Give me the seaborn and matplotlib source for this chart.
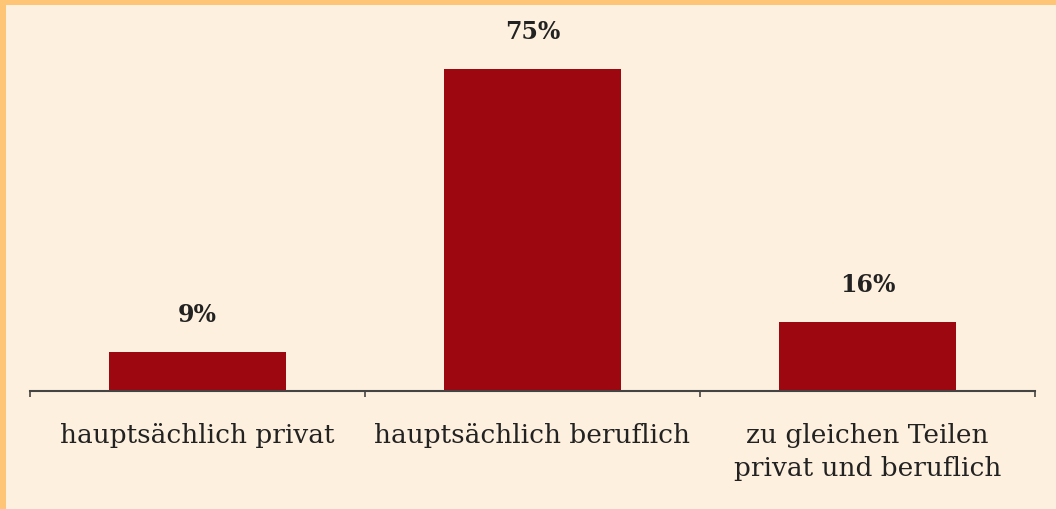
import matplotlib
matplotlib.use("Agg")
import matplotlib.pyplot as plt
import seaborn as sns
import pandas as pd
from matplotlib.patches import Rectangle

categories = ["hauptsächlich privat", "hauptsächlich beruflich", "zu gleichen Teilen\nprivat und beruflich"]
values = [9, 75, 16]
value_labels = ["9%", "75%", "16%"]

sns.set_theme(style="white")
plt.rcParams['font.family'] = ['DejaVu Serif']

bg = "#FEF0DE"
border = "#FFC577"
bar_color = "#9C0710"
text_color = "#222222"

W, H = 1056, 510
fig = plt.figure(figsize=(W / 100, H / 100), dpi=100, facecolor=bg)

# orange frame on top and left
fig.patches.append(Rectangle((0, 1 - 6 / H), 1, 6 / H, transform=fig.transFigure,
                             facecolor=border, edgecolor="none", zorder=0))
fig.patches.append(Rectangle((0, 0), 6 / W, 1, transform=fig.transFigure,
                             facecolor=border, edgecolor="none", zorder=0))

left, right = 30 / W, 1035 / W
bottom = 1 - 392 / H
ymax = 80
height = ymax * (322 / 75) / H
ax = fig.add_axes([left, bottom, right - left, height])
ax.set_facecolor("none")

df = pd.DataFrame({"cat": categories, "val": values})
sns.barplot(data=df, x="cat", y="val", ax=ax, color=bar_color, width=0.53,
            saturation=1, linewidth=0)

ax.set_ylim(0, ymax)
ax.set_xlim(-0.5, 2.5)
for s in ["top", "right", "left"]:
    ax.spines[s].set_visible(False)
ax.spines["bottom"].set_color("#444444")
ax.spines["bottom"].set_linewidth(1.5)
ax.set_yticks([])
ax.set_xlabel("")
ax.set_ylabel("")

# category boundary ticks
ax.set_xticks([-0.5, 0.5, 1.5, 2.5], minor=True)
ax.tick_params(axis="x", which="minor", bottom=True, length=4, width=1.2,
               color="#444444", direction="out")
ax.tick_params(axis="x", which="major", length=0, pad=22, labelsize=19, labelcolor=text_color)
for lbl in ax.get_xticklabels():
    lbl.set_horizontalalignment("center")
    lbl.set_linespacing(1.4)

for i, (v, t) in enumerate(zip(values, value_labels)):
    ax.annotate(t, xy=(i, v), xytext=(0, 19), textcoords="offset points",
                ha="center", va="bottom", fontsize=17, fontweight="bold",
                color=text_color, annotation_clip=False)

fig.savefig("out.png", dpi=100, facecolor=bg)
